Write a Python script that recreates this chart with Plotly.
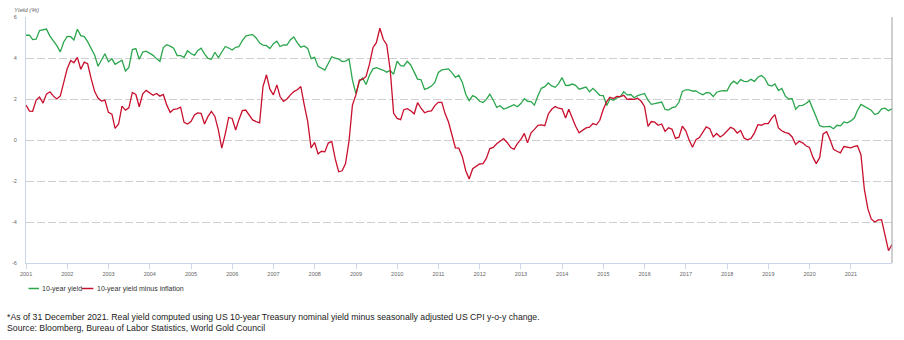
import pandas as pd
import plotly.graph_objects as go

# Month-end observations, Dec 2000 .. Dec 2021
dates = pd.date_range("2000-12-31", "2021-12-31", freq="ME")

nominal_yield = [
    5.11,
    5.11, 4.90, 4.92, 5.34, 5.38, 5.41, 5.07, 4.84, 4.60, 4.30, 4.78, 5.05,  # 2001
    5.04, 4.88, 5.40, 5.09, 5.04, 4.80, 4.46, 4.14, 3.60, 3.91, 4.21, 3.82,  # 2002
    3.96, 3.69, 3.80, 3.89, 3.37, 3.54, 4.41, 4.46, 3.94, 4.29, 4.33, 4.25,  # 2003
    4.13, 3.97, 3.84, 4.51, 4.65, 4.58, 4.48, 4.12, 4.12, 4.03, 4.35, 4.22,  # 2004
    4.13, 4.36, 4.48, 4.20, 3.98, 3.94, 4.28, 4.02, 4.32, 4.56, 4.49, 4.39,  # 2005
    4.52, 4.55, 4.85, 5.07, 5.12, 5.14, 4.98, 4.73, 4.63, 4.60, 4.46, 4.70,  # 2006
    4.82, 4.56, 4.64, 4.63, 4.89, 5.03, 4.74, 4.53, 4.59, 4.47, 3.97, 4.03,  # 2007
    3.59, 3.51, 3.41, 3.73, 4.06, 3.99, 3.95, 3.83, 3.85, 3.95, 2.93, 2.25,  # 2008
    2.87, 3.02, 2.71, 3.16, 3.47, 3.53, 3.48, 3.40, 3.31, 3.39, 3.21, 3.85,  # 2009
    3.63, 3.61, 3.84, 3.66, 3.31, 2.97, 2.94, 2.47, 2.53, 2.63, 2.81, 3.30,  # 2010
    3.42, 3.43, 3.47, 3.29, 3.05, 3.16, 2.82, 2.23, 1.92, 2.17, 2.08, 1.89,  # 2011
    1.83, 1.98, 2.23, 1.95, 1.59, 1.67, 1.51, 1.57, 1.65, 1.72, 1.62, 1.78,  # 2012
    2.02, 1.89, 1.87, 1.70, 2.16, 2.52, 2.60, 2.78, 2.64, 2.57, 2.75, 3.04,  # 2013
    2.67, 2.66, 2.73, 2.67, 2.48, 2.53, 2.58, 2.35, 2.52, 2.35, 2.18, 2.17,  # 2014
    1.68, 2.00, 1.94, 2.05, 2.12, 2.35, 2.20, 2.22, 2.06, 2.16, 2.21, 2.27,  # 2015
    1.94, 1.74, 1.78, 1.83, 1.85, 1.49, 1.46, 1.58, 1.61, 1.84, 2.37, 2.45,  # 2016
    2.45, 2.39, 2.40, 2.28, 2.21, 2.31, 2.30, 2.12, 2.33, 2.38, 2.41, 2.40,  # 2017
    2.72, 2.87, 2.74, 2.95, 2.86, 2.85, 2.96, 2.86, 3.06, 3.15, 3.01, 2.69,  # 2018
    2.63, 2.73, 2.41, 2.51, 2.14, 2.00, 2.02, 1.50, 1.68, 1.69, 1.78, 1.92,  # 2019
    1.51, 1.15, 0.70, 0.64, 0.65, 0.66, 0.55, 0.72, 0.69, 0.88, 0.84, 0.93,  # 2020
    1.07, 1.44, 1.74, 1.65, 1.58, 1.45, 1.24, 1.31, 1.52, 1.55, 1.43, 1.52,  # 2021
]

real_yield = [
    1.71,
    1.41, 1.40, 1.95, 2.10, 1.80, 2.24, 2.35, 2.14, 2.00, 2.15, 2.86, 3.48,  # 2001
    3.88, 3.77, 4.03, 3.45, 3.80, 3.72, 2.99, 2.36, 2.05, 1.90, 1.95, 1.35,  # 2002
    1.26, 0.57, 0.78, 1.65, 1.46, 1.57, 2.32, 2.22, 1.62, 2.25, 2.42, 2.30,  # 2003
    2.18, 2.27, 2.14, 2.22, 1.70, 1.35, 1.50, 1.52, 1.60, 0.86, 0.78, 0.90,  # 2004
    1.22, 1.32, 1.30, 0.78, 1.15, 1.40, 1.15, 0.48, -0.40, 0.30, 1.10, 1.05,  # 2005
    0.49, 0.98, 1.43, 1.46, 1.22, 0.98, 0.90, 0.84, 2.61, 3.18, 2.48, 2.20,  # 2006
    2.69, 2.12, 1.88, 2.00, 2.20, 2.36, 2.45, 2.61, 1.72, 0.91, -0.39, -0.12,  # 2007
    -0.68, -0.55, -0.58, -0.15, -0.07, -0.90, -1.55, -1.50, -1.15, -0.05, 1.70, 2.20,  # 2008
    2.92, 2.96, 3.10, 3.70, 4.50, 4.75, 5.45, 4.90, 4.65, 3.40, 1.30, 1.05,  # 2009
    0.99, 1.48, 1.53, 1.43, 1.28, 1.82, 1.55, 1.33, 1.40, 1.42, 1.68, 1.84,  # 2010
    1.84, 1.30, 0.88, 0.30, -0.38, -0.40, -0.80, -1.50, -1.90, -1.40, -1.28, -1.17,  # 2011
    -1.15, -0.90, -0.42, -0.36, -0.18, -0.06, 0.07, -0.12, -0.35, -0.46, -0.18, 0.03,  # 2012
    0.32, -0.14, 0.35, 0.52, 0.72, 0.74, 0.70, 1.27, 1.50, 1.63, 1.55, 1.52,  # 2013
    1.07, 1.50, 1.05, 0.67, 0.35, 0.45, 0.59, 0.63, 0.80, 0.74, 0.96, 1.50,  # 2014
    1.88, 2.08, 2.02, 2.13, 2.12, 2.18, 1.98, 2.00, 1.98, 2.04, 1.90, 1.64,  # 2015
    0.67, 0.90, 0.87, 0.72, 0.78, 0.42, 0.60, 0.52, 0.08, 0.14, 0.67, 0.45,  # 2016
    -0.03, -0.35, 0.02, 0.12, 0.38, 0.64, 0.55, 0.15, 0.32, 0.15, 0.26, 0.45,  # 2017
    0.62, 0.55, 0.34, 0.46, 0.10, 0.01, 0.08, 0.35, 0.75, 0.72, 0.80, 0.80,  # 2018
    1.07, 1.24, 0.59, 0.45, 0.36, 0.32, 0.15, -0.22, -0.06, -0.14, -0.28, -0.36,  # 2019
    -0.85, -1.15, -0.85, 0.30, 0.40, 0.02, -0.45, -0.55, -0.63, -0.32, -0.34, -0.38,  # 2020
    -0.31, -0.28, -0.72, -2.40, -3.35, -3.85, -4.00, -3.90, -3.90, -4.65, -5.40, -5.10,  # 2021
]

series_names = ["10-year yield", "10-year yield minus inflation"]
y_ticks = [-6, -4, -2, 0, 2, 4, 6]
axis_title = "Yield (%)"
footnote_1 = ("*As of 31 December 2021. Real yield computed using US 10-year Treasury "
              "nominal yield minus seasonally adjusted US CPI y-o-y change.")
footnote_2 = "Source: Bloomberg, Bureau of Labor Statistics, World Gold Council"

GREEN = "#2ba64d"
RED = "#c8102e"
FONT = "Liberation Sans, Arial, sans-serif"

W, H = 904, 340
ML, MR, MT, MB = 24, 12, 17, 77
PW, PH = W - ML - MR, H - MT - MB


def px_x(p):
    return (p - ML) / PW


def px_y(p):
    return (H - MB - p) / PH


fig = go.Figure()
fig.add_trace(go.Scatter(x=dates, y=nominal_yield, mode="lines", name=series_names[0],
                         line=dict(color=GREEN, width=1.3), showlegend=False))
fig.add_trace(go.Scatter(x=dates, y=real_yield, mode="lines", name=series_names[1],
                         line=dict(color=RED, width=1.3), showlegend=False))

fig.update_layout(
    width=W, height=H, autosize=False,
    margin=dict(l=ML, r=MR, t=MT, b=MB, pad=0),
    paper_bgcolor="white", plot_bgcolor="white",
    font=dict(family=FONT, color="#666666"),
    xaxis=dict(
        type="date", range=[dates[0], dates[-1]],
        tick0="2001-01-01", dtick="M12", tickformat="%Y",
        showgrid=False, zeroline=False,
        showline=True, linecolor="#ccd6eb", linewidth=1,
        ticks="outside", ticklen=5, tickcolor="#ccd6eb", tickwidth=1,
        tickfont=dict(size=5.5, color="#666666", family=FONT),
    ),
    yaxis=dict(
        range=[-6, 6], tickvals=y_ticks, ticktext=[str(v) for v in y_ticks],
        showgrid=True, gridcolor="#cfcfcf", gridwidth=1, griddash="8px,3px",
        zeroline=False, showline=True, linecolor="#ccd6eb", linewidth=1,
        ticks="", ticklabelstandoff=7,
        tickfont=dict(size=5.5, color="#666666", family=FONT),
    ),
    hovermode=False,
)

shapes = [
    # right border of plot area
    dict(type="line", xref="paper", yref="paper", x0=1, x1=1, y0=0, y1=1,
         line=dict(color="#a0a0a0", width=1)),
    # legend samples
    dict(type="line", xref="paper", yref="paper", x0=px_x(26.5), x1=px_x(37),
         y0=px_y(288.5), y1=px_y(288.5), line=dict(color=GREEN, width=1.5)),
    dict(type="line", xref="paper", yref="paper", x0=px_x(80), x1=px_x(91.5),
         y0=px_y(288.5), y1=px_y(288.5), line=dict(color=RED, width=1.5)),
]
fig.update_layout(shapes=shapes)

annotations = [
    dict(text="<i>" + axis_title + "</i>", xref="paper", yref="paper",
         x=px_x(10), y=px_y(10), xanchor="left", yanchor="middle", showarrow=False,
         font=dict(size=6.2, color="#666666", family=FONT)),
    dict(text=series_names[0], xref="paper", yref="paper",
         x=px_x(38), y=px_y(288.5), xanchor="left", yanchor="middle", showarrow=False,
         font=dict(size=7, color="#333333", family=FONT)),
    dict(text=series_names[1], xref="paper", yref="paper",
         x=px_x(93), y=px_y(288.5), xanchor="left", yanchor="middle", showarrow=False,
         font=dict(size=7, color="#333333", family=FONT)),
    dict(text=footnote_1, xref="paper", yref="paper",
         x=px_x(3), y=px_y(316.5), xanchor="left", yanchor="middle", showarrow=False,
         font=dict(size=8.7, color="#1a1a1a", family=FONT)),
    dict(text=footnote_2, xref="paper", yref="paper",
         x=px_x(3), y=px_y(328.5), xanchor="left", yanchor="middle", showarrow=False,
         font=dict(size=8.7, color="#1a1a1a", family=FONT)),
]
fig.update_layout(annotations=annotations)

fig.write_html("out.html")
